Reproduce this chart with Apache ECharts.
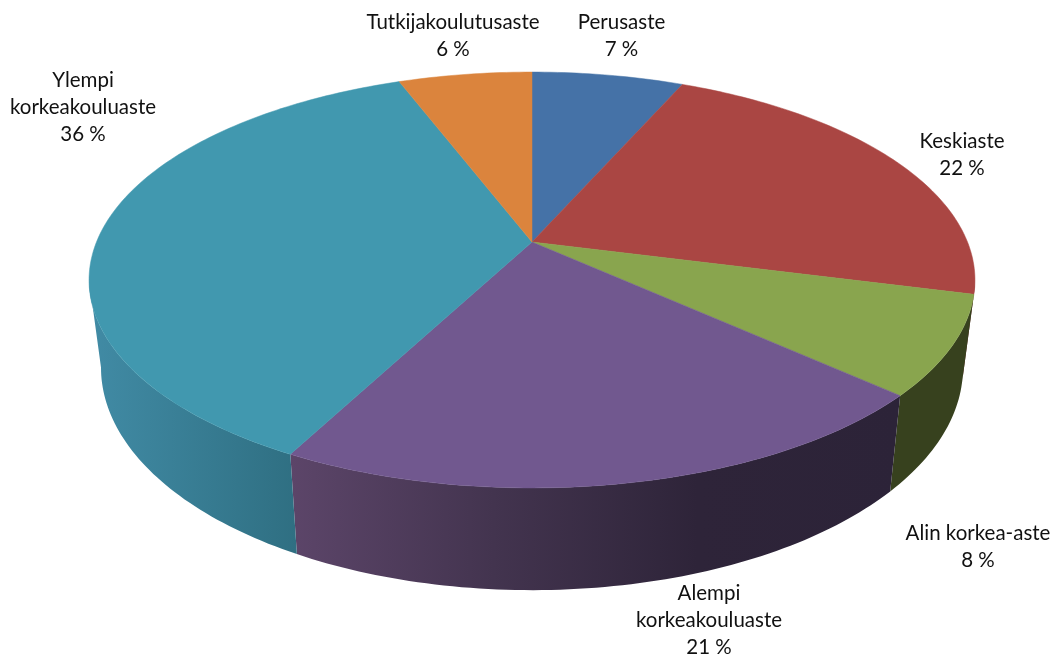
<!DOCTYPE html>
<html>
<head>
<meta charset="utf-8">
<style>
  html, body { margin: 0; padding: 0; background: #fff; }
  #chart { width: 1055px; height: 657px; }
</style>
<script src="https://cdn.jsdelivr.net/npm/echarts@6/dist/echarts.min.js"></script>
</head>
<body>
<div id="chart"></div>
<script>
// Values, clockwise from twelve o'clock
const categories = ['Perusaste', 'Keskiaste', 'Alin korkea-aste', 'Alempi\nkorkeakouluaste', 'Ylempi\nkorkeakouluaste', 'Tutkijakoulutusaste'];
const shares = [6.6, 22.4, 7.7, 21, 36.49, 5.81];
const topColors = ['#4572a7', '#aa4643', '#89a54e', '#71588f', '#4198af', '#db843d'];
const wallColors = [
  ['#2c4568', '#2c4568'],
  ['#6a2b29', '#6a2b29'],
  ['#37411e', '#37411e'],
  ['#5c4569', '#43344f', '#2e2439', '#2c2338'],
  ['#418ba5', '#2f6f82'],
  ['#8a5226', '#8a5226']
];
const labelCenters = [[621.5, 22], [962, 141], [978, 533], [709, 593], [83, 80], [453, 22]];

// Perspective of the pie: apex, radii, tilt, and the scale of the lower face
const apexX = 532, apexY = 242;
const radiusX = 435.5, radiusY = 201, tilt = 0.1827;
const floorScaleX = 0.973, floorScaleY = 1.07, floorY = 327;
const lineHeight = 27;

const total = shares.reduce((a, b) => a + b, 0);
const startAngles = shares.map((_, i) => shares.slice(0, i).reduce((a, b) => a + b, 0) / total * 360);

function topPoint(deg) {
  const t = deg * Math.PI / 180;
  const u = Math.sin(t), v = -Math.cos(t);
  const d = 1 - tilt * v;
  return [apexX + radiusX * u / d, apexY + radiusY * v / d];
}

function floorPoint(deg) {
  const p = topPoint(deg);
  return [apexX + (p[0] - apexX) * floorScaleX, floorY + (p[1] - apexY) * floorScaleY];
}

function arc(from, to, fn) {
  const pts = [];
  const n = Math.max(2, Math.ceil(to - from));
  for (let i = 0; i <= n; i++) pts.push(fn(from + (to - from) * i / n));
  return pts;
}

function renderWall(params, api) {
  const i = api.value(0);
  // only the near side of the rim can be seen, between the two widest points
  const from = Math.max(startAngles[i], 100.5);
  const to = Math.min(startAngles[i] + shares[i] / total * 360, 259.5);
  if (to <= from) return null;
  const stops = wallColors[i];
  return {
    type: 'polygon',
    shape: { points: arc(from, to, topPoint).concat(arc(from, to, floorPoint).reverse()) },
    style: {
      fill: {
        type: 'linear', x: 0, y: 0, x2: 1, y2: 0,
        colorStops: stops.map((c, k) => ({ offset: k / (stops.length - 1), color: c }))
      }
    }
  };
}

function renderTop(params, api) {
  const i = api.value(0);
  const start = startAngles[i];
  const end = start + shares[i] / total * 360;
  return {
    type: 'polygon',
    shape: { points: [[apexX, apexY]].concat(arc(start, end, topPoint)) },
    style: { fill: topColors[i], stroke: topColors[i], lineWidth: 0.5 }
  };
}

const rows = shares.map((_, i) => [i]);
const chart = echarts.init(document.getElementById('chart'));

chart.setOption({
  animation: false,
  backgroundColor: '#fff',
  series: [
    { type: 'custom', coordinateSystem: 'none', renderItem: renderWall, data: rows, z: 1, silent: true },
    { type: 'custom', coordinateSystem: 'none', renderItem: renderTop, data: rows, z: 2, silent: true }
  ],
  graphic: categories.map((name, i) => ({
    type: 'text',
    x: labelCenters[i][0],
    y: labelCenters[i][1] - lineHeight / 2,
    z: 5,
    style: {
      text: name + '\n' + Math.round(shares[i]) + ' %',
      fill: '#111',
      font: '20.5px Lato',
      lineHeight: lineHeight,
      align: 'center',
      verticalAlign: 'top'
    }
  }))
});
</script>
</body>
</html>
